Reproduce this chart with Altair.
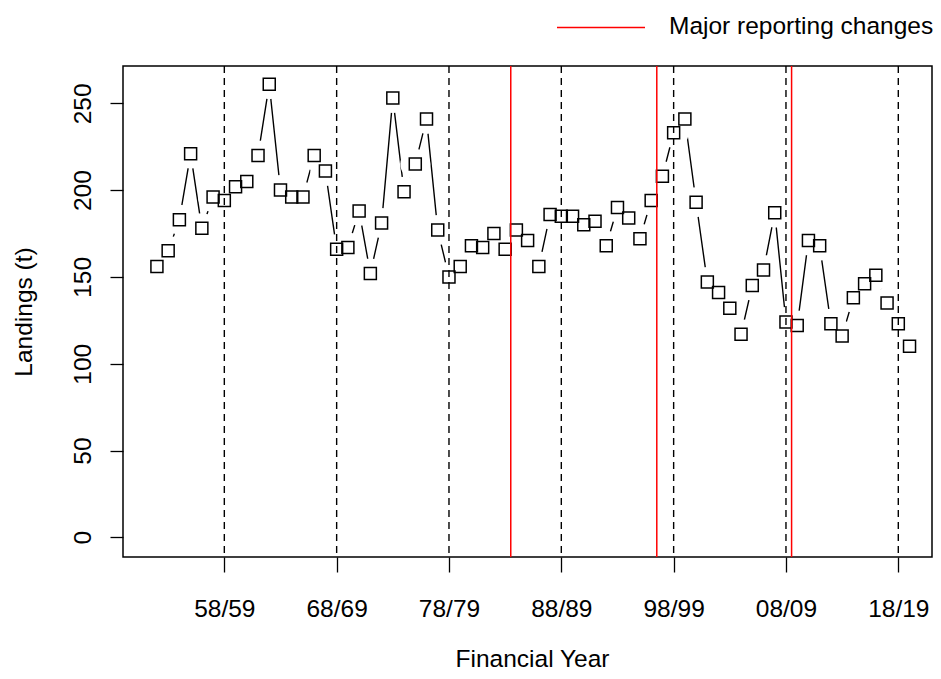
import altair as alt
import pandas as pd

# ---- data ----
years = list(range(1952, 2020))
landings = [
    156, 165, 183, 221, 178, 196, 194, 202, 205, 220,
    261, 200, 196, 196, 220, 211, 166, 167, 188, 152,
    181, 253, 199, 215, 241, 177, 150, 156, 168, 167,
    175, 166, 177, 171, 156, 186, 185, 185, 180, 182,
    168, 190, 184, 172, 194, 208, 233, 241, 193, 147,
    141, 132, 117, 145, 154, 187, 124, 122, 171, 168,
    123, 116, 138, 146, 151, 135, 123, 110,
]
tick_years = [1958, 1968, 1978, 1988, 1998, 2008, 2018]
tick_labels = ["58/59", "68/69", "78/79", "88/89", "98/99", "08/09", "18/19"]
change_years = [1983.5, 1996.5, 2008.5]
y_ticks = [0, 50, 100, 150, 200, 250]
legend_label = "Major reporting changes"

df = pd.DataFrame({"year": years, "landings": landings})
ticks_df = pd.DataFrame({"year": tick_years})
change_df = pd.DataFrame({"year": change_years})
legend_df = pd.DataFrame({"label": [legend_label]})

FONT = "Liberation Sans"
FS = 24.5

label_expr = ""
for yv, lab in zip(tick_years, tick_labels):
    label_expr += f"datum.value == {yv} ? '{lab}' : "
label_expr += "''"

xscale = alt.Scale(domain=[1948.98, 2021.0], nice=False, zero=False)
yscale = alt.Scale(domain=[-11.35, 271.5], nice=False, zero=False)

x_enc = alt.X(
    "year:Q",
    scale=xscale,
    axis=alt.Axis(
        values=tick_years,
        labelExpr=label_expr,
        title="Financial Year",
        grid=False,
        domain=False,
        tickSize=15,
        tickColor="black",
        tickWidth=1.3,
        labelPadding=44,
        labelBaseline="alphabetic",
        labelAlign="center",
        labelFont=FONT,
        labelFontSize=FS,
        labelColor="black",
        labelFlush=False,
        labelOverlap=False,
        titleFont=FONT,
        titleFontSize=FS,
        titleFontWeight="normal",
        titleColor="black",
        titleBaseline="alphabetic",
        titleAlign="center",
        titleX=409,
        titleY=109,
    ),
)
y_enc = alt.Y(
    "landings:Q",
    scale=yscale,
    axis=alt.Axis(
        values=y_ticks,
        title="Landings (t)",
        grid=False,
        domain=False,
        tickSize=13,
        tickColor="black",
        tickWidth=1.3,
        labelAngle=270,
        labelAlign="center",
        labelBaseline="alphabetic",
        labelPadding=20,
        labelFont=FONT,
        labelFontSize=FS,
        labelColor="black",
        labelFlush=False,
        labelOverlap=False,
        titleFont=FONT,
        titleFontSize=FS,
        titleFontWeight="normal",
        titleColor="black",
        titleAngle=270,
        titleAlign="center",
        titleBaseline="alphabetic",
        titleX=-92,
        titleY=245.5,
    ),
)

base = alt.Chart(df).encode(x=x_enc, y=y_enc)

line = base.mark_line(color="black", strokeWidth=1.4)
mask = base.mark_point(shape="circle", size=900, filled=True, color="white", opacity=1)
squares = base.mark_point(shape="square", size=144, filled=False, color="black",
                          strokeWidth=1.5, opacity=1)

dashed = alt.Chart(ticks_df).mark_rule(color="black", strokeWidth=1.4, strokeDash=[7, 5]).encode(
    x=alt.X("year:Q", scale=xscale)
)
red = alt.Chart(change_df).mark_rule(color="red", strokeWidth=1.5).encode(
    x=alt.X("year:Q", scale=xscale)
)

legend_line = alt.Chart(legend_df).mark_rule(color="red", strokeWidth=1.5).encode(
    x=alt.value(434), x2=alt.value(522), y=alt.value(-38.5)
)
legend_text = alt.Chart(legend_df).mark_text(
    align="left", baseline="alphabetic", font=FONT, fontSize=FS, color="black"
).encode(text="label:N", x=alt.value(546), y=alt.value(-32.5))

chart = alt.layer(line, mask, squares, dashed, red, legend_line, legend_text).properties(
    width=809,
    height=491,
    padding={"left": 115, "top": 58, "right": 1, "bottom": 113},
    autosize=alt.AutoSizeParams(type="none"),
).configure(
    background="white",
    view=alt.ViewConfig(stroke="black", strokeWidth=1.5),
)

chart.save("out.html", embed_options={"renderer": "svg", "actions": False})
